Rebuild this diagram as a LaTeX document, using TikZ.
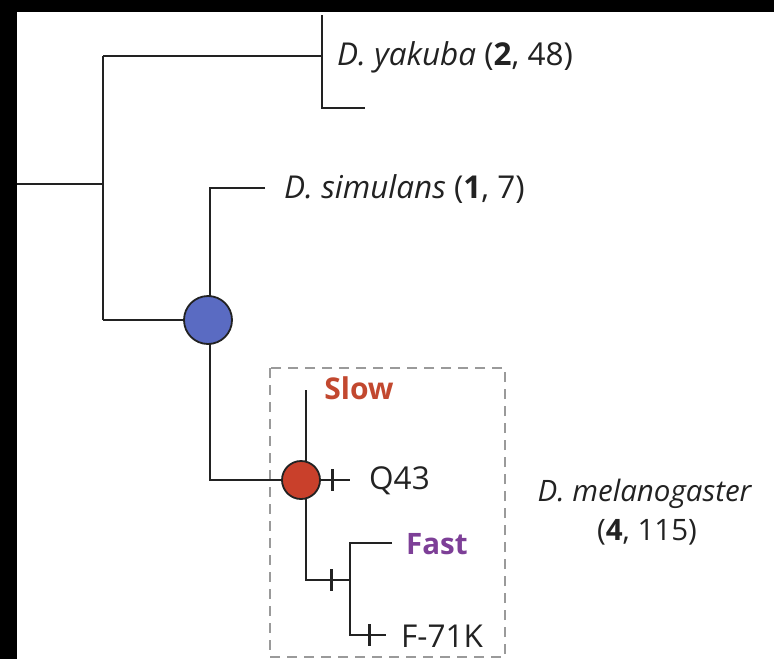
\documentclass[tikz,border=0pt]{standalone}
\usepackage{fontspec}
\setmainfont{Open Sans}
\definecolor{ln}{HTML}{222222}
\definecolor{bluenode}{HTML}{5A6BC2}
\definecolor{rednode}{HTML}{C9402B}
\definecolor{slowc}{HTML}{C2482F}
\definecolor{fastc}{HTML}{7D3F97}
\definecolor{boxc}{HTML}{9A9A9A}
\begin{document}
\begin{tikzpicture}[x=1pt,y=-1pt,
  br/.style={draw=ln,line width=2.3pt},
  tickmark/.style={draw=ln,line width=3pt},
  lab/.style={font=\fontsize{31.5}{36}\selectfont,text=ln,inner sep=0pt},
  anc/.style={circle,draw=ln,line width=1.8pt,inner sep=0pt}]
\useasboundingbox (0,0) rectangle (774,659);
\fill[white] (0,0) rectangle (774,659);
\fill[black] (0,0) rectangle (774,12);
\fill[black] (0,0) rectangle (17,659);
% coordinates
\coordinate (root) at (17,184);
\coordinate (r1) at (103,184);
\coordinate (r1t) at (103,56);
\coordinate (r1b) at (103,320);
\coordinate (yv) at (322,56);
\coordinate (yt) at (322,15);
\coordinate (yb) at (322,108);
\coordinate (ybe) at (365,108);
\coordinate (st) at (210,188);
\coordinate (ste) at (265,188);
\coordinate (sb) at (210,480);
\coordinate (mt) at (306,390);
\coordinate (mb) at (306,580);
\coordinate (qe) at (350,480);
\coordinate (fv) at (350,580);
\coordinate (ft) at (350,543);
\coordinate (fte) at (392,543);
\coordinate (fb) at (350,635);
\coordinate (fbe) at (386,635);
% dashed box
\draw[boxc,line width=1.5pt,dash pattern=on 10pt off 7pt] (270,368) rectangle (505,657);
% branches
\draw[br] (root) -- (r1);
\draw[br] (r1t) -- (r1b);
\draw[br] (r1t) -- (yv);
\draw[br] (yt) -- (yb) -- (ybe);
\draw[br] (ste) -- (st) -- (sb) -- (301,480);
\draw[br] (r1b) -- (208,320);
\draw[br] (mt) -- (mb) -- (fv);
\draw[br] (301,480) -- (qe);
\draw[br] (fte) -- (ft) -- (fb) -- (fbe);
% ticks
\draw[tickmark] (332,469) -- (332,491);
\draw[tickmark] (331,569) -- (331,591);
\draw[tickmark] (369,624) -- (369,646);
% ancestral nodes
\node[anc,fill=bluenode,minimum size=48pt] (blue) at (208,320) {};
\node[anc,fill=rednode,minimum size=38pt] (red) at (301,480) {};
% labels
\node[lab,anchor=west] (yak) at (337,57) {\textit{D. yakuba} (\textbf{2}, 48)};
\node[lab,anchor=west] (sim) at (284,189) {\textit{D. simulans} (\textbf{1}, 7)};
\node[lab,anchor=west] (q43) at (369,481) {Q43};
\node[lab,anchor=west] (f71) at (401,636) {F-71K};
\node[lab,font=\fontsize{30}{36}\selectfont\bfseries,text=slowc] (slow) at (359,388) {Slow};
\node[lab,font=\fontsize{29.5}{36}\selectfont\bfseries,text=fastc,anchor=west] (fast) at (406,544) {Fast};
\node[lab,font=\fontsize{29.5}{36}\selectfont] (mel) at (645,494) {\textit{D. melanogaster}};
\node[lab,font=\fontsize{29.5}{36}\selectfont] (melc) at (647,532) {(\textbf{4}, 115)};
\end{tikzpicture}
\end{document}
